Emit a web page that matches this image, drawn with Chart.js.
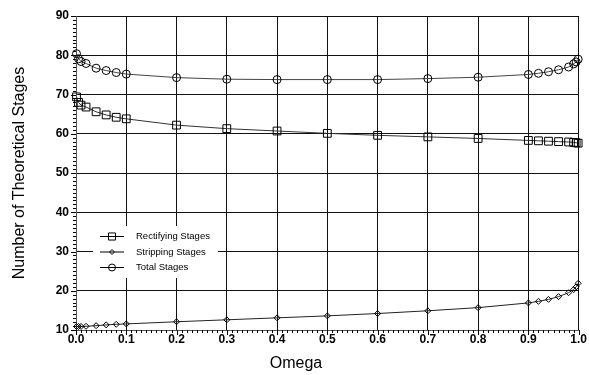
<!DOCTYPE html>
<html>
<head>
<meta charset="utf-8">
<script src="https://cdn.jsdelivr.net/npm/chart.js@4/dist/chart.umd.min.js"></script>
<style>
  html, body { margin: 0; padding: 0; background: #fff; }
  canvas { display: block; }
</style>
</head>
<body>
<canvas id="grafico" width="589" height="375"></canvas>
<script>
// datos
const omega = [0.001, 0.005, 0.01, 0.02, 0.04, 0.06, 0.08, 0.1, 0.2, 0.3, 0.4, 0.5, 0.6, 0.7, 0.8, 0.9, 0.92, 0.94, 0.96, 0.98, 0.99, 0.995, 0.999];
const rectifying = [69.4, 68.0, 67.3, 66.8, 65.6, 64.8, 64.2, 63.8, 62.2, 61.3, 60.7, 60.1, 59.6, 59.2, 58.8, 58.3, 58.2, 58.1, 58.0, 57.9, 57.8, 57.7, 57.6];
const stripping = [10.9, 10.9, 10.9, 10.95, 11.1, 11.3, 11.45, 11.55, 12.1, 12.6, 13.1, 13.6, 14.2, 14.9, 15.7, 16.9, 17.3, 17.8, 18.5, 19.5, 20.3, 21.0, 21.9];
const total = [80.4, 79.1, 78.4, 77.9, 76.7, 76.1, 75.6, 75.2, 74.3, 73.9, 73.8, 73.8, 73.8, 74.05, 74.4, 75.1, 75.4, 75.8, 76.3, 77.0, 77.8, 78.3, 79.0];

const seriesLabels = ['Rectifying Stages', 'Stripping Stages', 'Total Stages'];
const xTitle = 'Omega';
const yTitle = 'Number of Theoretical Stages';

const FONT = 'Arial, "Liberation Sans", sans-serif';

function toPoints(ys) {
    return omega.map((x, i) => ({ x: x, y: ys[i] }));
}

function serie(label, ys, estilo, radio, radioLeyenda, color) {
    return {
        label: label,
        data: toPoints(ys),
        borderColor: color,
        borderWidth: 1,
        pointStyle: estilo,
        pointRadius: radio,
        pointBackgroundColor: 'rgba(0,0,0,0)',
        pointBorderColor: '#000',
        pointBorderWidth: 1,
        radioLeyenda: radioLeyenda,
        clip: false,
        tension: 0
    };
}

// Leyenda dentro del área, con fondo blanco
const leyendaPlugin = {
    id: 'leyenda',
    afterDatasetsDraw(chart) {
        const ctx = chart.ctx;
        ctx.save();
        ctx.fillStyle = '#fff';
        ctx.fillRect(93, 226, 125, 52);
        const filas = [236, 251.5, 267];
        chart.data.datasets.forEach((ds, i) => {
            const y = filas[i];
            ctx.strokeStyle = '#000';
            ctx.lineWidth = 1;
            ctx.beginPath();
            ctx.moveTo(100, y + 0.5);
            ctx.lineTo(124, y + 0.5);
            ctx.stroke();
            ctx.fillStyle = 'rgba(0,0,0,0)';
            Chart.helpers.drawPoint(ctx, {
                pointStyle: ds.pointStyle,
                radius: ds.radioLeyenda,
                borderWidth: 1
            }, 112, y + 0.5);
            ctx.fillStyle = '#000';
            ctx.font = '9.5px ' + FONT;
            ctx.textBaseline = 'middle';
            ctx.textAlign = 'left';
            ctx.fillText(ds.label, 136, y + 0.5);
        });
        ctx.restore();
    }
};

// Marcas menores y títulos de ejes
const ejesPlugin = {
    id: 'ejes',
    afterDraw(chart) {
        const ctx = chart.ctx;
        const xs = chart.scales.x;
        const ys = chart.scales.y;
        const area = chart.chartArea;
        ctx.save();
        ctx.strokeStyle = '#000';
        ctx.lineWidth = 1;
        ctx.beginPath();
        for (let v = 10; v <= 90; v++) {
            const py = Math.round(ys.getPixelForValue(v)) + 0.5;
            const largo = v % 10 === 0 ? 5 : 3;
            ctx.moveTo(area.left - largo, py);
            ctx.lineTo(area.left, py);
        }
        for (let k = 0; k <= 100; k++) {
            const px = Math.round(xs.getPixelForValue(k / 100)) + 0.5;
            const largo = k % 10 === 0 ? 5 : 3;
            ctx.moveTo(px, area.bottom);
            ctx.lineTo(px, area.bottom + largo);
        }
        ctx.stroke();

        ctx.fillStyle = '#000';
        ctx.font = '16px ' + FONT;
        ctx.textAlign = 'center';
        ctx.textBaseline = 'middle';
        ctx.fillText(xTitle, 296, 364);
        ctx.translate(20, (area.top + area.bottom) / 2);
        ctx.rotate(-Math.PI / 2);
        ctx.fillText(yTitle, 0, 0);
        ctx.restore();
    }
};

const ctx = document.getElementById('grafico').getContext('2d');
new Chart(ctx, {
    type: 'line',
    data: {
        datasets: [
            serie(seriesLabels[0], rectifying, 'rect', 5.5, 5, '#333'),
            serie(seriesLabels[1], stripping, 'rectRot', 3, 2.5, '#222'),
            serie(seriesLabels[2], total, 'circle', 4, 3.5, '#444')
        ]
    },
    options: {
        responsive: false,
        animation: false,
        layout: { padding: { top: 16, right: 10, left: 0, bottom: 0 } },
        plugins: {
            legend: { display: false },
            tooltip: { enabled: false }
        },
        scales: {
            x: {
                type: 'linear',
                min: 0,
                max: 1,
                ticks: {
                    stepSize: 0.1,
                    padding: 2,
                    color: '#000',
                    font: { family: FONT, size: 12, weight: 'bold' },
                    callback: v => v.toFixed(1)
                },
                grid: { color: '#111', lineWidth: 1, drawTicks: false },
                border: { color: '#555' },
                afterFit(scale) { scale.height = 45; }
            },
            y: {
                min: 10,
                max: 90,
                ticks: {
                    stepSize: 10,
                    padding: 7,
                    color: '#000',
                    font: { family: FONT, size: 12, weight: 'bold' }
                },
                grid: { color: '#111', lineWidth: 1, drawTicks: false },
                border: { color: '#555' },
                afterFit(scale) { scale.width = 76; }
            }
        }
    },
    plugins: [leyendaPlugin, ejesPlugin]
});
</script>
</body>
</html>
